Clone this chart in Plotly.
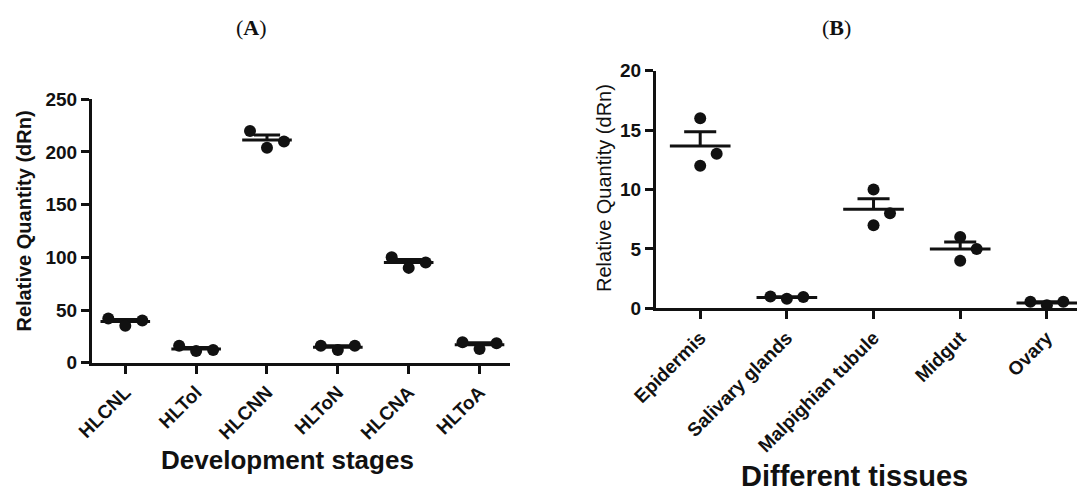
import numpy as np
import plotly.graph_objects as go

# ---------------- data ----------------
stages = ["HLCNL", "HLTol", "HLCNN", "HLToN", "HLCNA", "HLToA"]
stage_values = [
    [42, 35, 40],
    [16, 11, 12],
    [220, 204, 210],
    [16, 12, 16],
    [100, 90, 95],
    [19.5, 13, 18.5],
]

tissues = ["Epidermis", "Salivary glands", "Malpighian tubule", "Midgut", "Ovary"]
tissue_values = [
    [16, 13, 12],
    [1.0, 0.8, 0.95],
    [10, 8, 7],
    [6, 5, 4],
    [0.55, 0.25, 0.55],
]

a_yticks = [0, 50, 100, 150, 200, 250]
b_yticks = [0, 5, 10, 15, 20]

# ---------------- style / layout constants ----------------
W, H = 1085, 491
PAGE_OFF = 8  # default body margin of the html page


def px(xp):
    return (xp - PAGE_OFF) / W


def py(yp):
    return 1 - (yp - PAGE_OFF) / H


INK = "#111111"
SANS = "Liberation Sans, Arial, sans-serif"
SERIF = "Liberation Serif, Times New Roman, serif"
# horizontal spreading of replicate dots (column-scatter style), in category units
a_spread = [[-0.24, 0, 0.24]] * 6
b_spread = [[0, 0.19, 0], [-0.19, 0, 0.19], [0, 0.19, 0], [0, 0.19, 0], [-0.19, 0, 0.19]]
MEAN_HALF = 0.35
CAP_HALF = 0.185

fig = go.Figure()


def add_panel(cats, vals, spread, xref, yref):
    for i, (v, off) in enumerate(zip(vals, spread)):
        v = np.array(v, dtype=float)
        m = v.mean()
        s = v.std(ddof=1) / np.sqrt(len(v))
        # mean line + upper SEM bar
        fig.add_trace(go.Scatter(
            x=[i - MEAN_HALF, i + MEAN_HALF, None, i, i, None, i - CAP_HALF, i + CAP_HALF],
            y=[m, m, None, m, m + s, None, m + s, m + s],
            mode="lines", line=dict(color=INK, width=3),
            xaxis=xref, yaxis=yref, showlegend=False, hoverinfo="skip"))
        # replicate points
        fig.add_trace(go.Scatter(
            x=[i + o for o in off], y=list(v), mode="markers",
            marker=dict(color=INK, size=12),
            xaxis=xref, yaxis=yref, showlegend=False, name=cats[i]))


add_panel(stages, stage_values, a_spread, "x", "y")
add_panel(tissues, tissue_values, b_spread, "x2", "y2")

axis_common = dict(showline=True, linecolor=INK, linewidth=3, ticks="outside",
                   ticklen=8, tickwidth=3, tickcolor=INK, showgrid=False, zeroline=False,
                   fixedrange=True, automargin=False)

XT = dict(family=SANS, size=19, color=INK)
YT = dict(family=SANS, size=19, color=INK)

fig.update_layout(
    template="none",
    width=W, height=H, margin=dict(l=0, r=0, t=0, b=0, pad=0),
    paper_bgcolor="white", plot_bgcolor="white", showlegend=False,
    xaxis=dict(domain=[px(92), px(510)], range=[-0.47, 5.43],
               tickmode="array", tickvals=list(range(len(stages))),
               ticktext=["<b>%s</b>" % t for t in stages],
               tickangle=-45, tickfont=XT, anchor="y", **axis_common),
    yaxis=dict(domain=[py(362.7), py(99.3)], range=[0, 250],
               tickmode="array", tickvals=a_yticks,
               ticktext=["<b>%d</b>" % t for t in a_yticks],
               tickfont=YT, anchor="x", **axis_common),
    xaxis2=dict(domain=[px(656), px(1085)], range=[-0.51, 4.44],
                tickmode="array", tickvals=list(range(len(tissues))),
                ticktext=["<b>%s</b>" % t for t in tissues],
                tickangle=-45, tickfont=XT, anchor="y2", **axis_common),
    yaxis2=dict(domain=[py(308.3), py(70.7)], range=[0, 20],
                tickmode="array", tickvals=b_yticks,
                ticktext=["<b>%d</b>" % t for t in b_yticks],
                tickfont=YT, anchor="x2", **axis_common),
)

ann = [
    dict(text="(<b>A</b>)", x=px(251), y=py(28), font=dict(family=SERIF, size=22, color=INK)),
    dict(text="(<b>B</b>)", x=px(836), y=py(28), font=dict(family=SERIF, size=22, color=INK)),
    dict(text="<b>Development stages</b>", x=px(287), y=py(460), font=dict(family=SANS, size=26, color=INK)),
    dict(text="<b>Different tissues</b>", x=px(854), y=py(476), font=dict(family=SANS, size=29, color=INK)),
    dict(text="<b>Relative Quantity (dRn)</b>", x=px(23), y=py(221.5), textangle=-90,
         font=dict(family=SANS, size=20, color=INK)),
    dict(text="Relative Quantity (dRn)", x=px(604), y=py(188), textangle=-90,
         font=dict(family=SANS, size=20, color=INK)),
]
for a in ann:
    fig.add_annotation(xref="paper", yref="paper", showarrow=False,
                       xanchor="center", yanchor="middle", **a)

fig.write_html("out.html")
